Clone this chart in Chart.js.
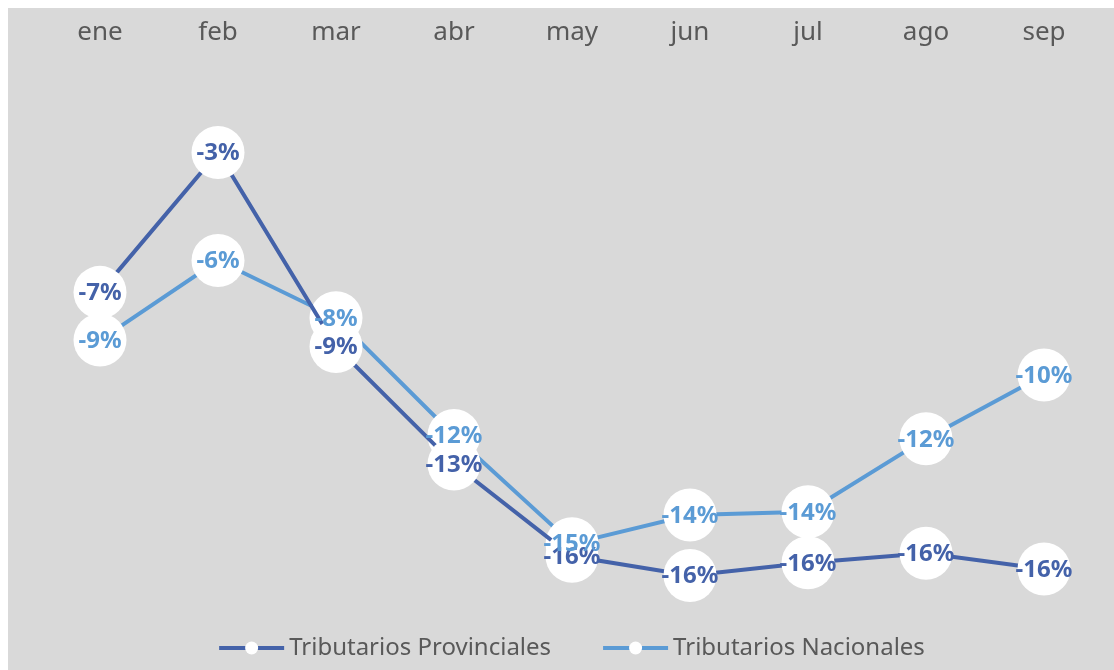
<!DOCTYPE html>
<html>
<head>
<meta charset="utf-8">
<script src="https://cdn.jsdelivr.net/npm/chart.js@4/dist/chart.umd.min.js"></script>
<style>
  html, body { margin: 0; padding: 0; background: #ffffff; overflow: hidden; }
  #wrap { position: absolute; left: 8px; top: 8px; width: 1106px; height: 662px; background: #d9d9d9; }
  #chart { display: block; }
</style>
</head>
<body>
<div id="wrap"><canvas id="chart" width="1106" height="662"></canvas></div>
<script>
// --- Data ---
const months = ['ene', 'feb', 'mar', 'abr', 'may', 'jun', 'jul', 'ago', 'sep'];
const provinciales = [-7.4, -3.0, -9.1, -12.8, -15.7, -16.3, -15.9, -15.6, -16.1];
const nacionales = [-8.9, -6.4, -8.2, -11.9, -15.3, -14.4, -14.3, -12.0, -10.0];
const seriesNames = ['Tributarios Provinciales', 'Tributarios Nacionales'];
const seriesColors = ['#4462a9', '#5b9bd5'];

const textColor = '#595959';
const fontFamily = "'Noto Sans', 'Open Sans', sans-serif";

// --- Plugins ---
// round labels drawn inside the white markers
const pointLabels = {
    id: 'pointLabels',
    afterDatasetsDraw(chart) {
        const ctx = chart.ctx;
        ctx.save();
        ctx.font = 'bold 24px ' + fontFamily;
        ctx.textAlign = 'center';
        ctx.textBaseline = 'middle';
        chart.data.datasets.forEach((ds, i) => {
            const meta = chart.getDatasetMeta(i);
            ctx.fillStyle = ds.borderColor;
            meta.data.forEach((pt, j) => {
                ctx.fillText(Math.round(ds.data[j]) + '%', pt.x, pt.y + 1);
            });
        });
        ctx.restore();
    }
};

// legend with line + circle marker
const lineLegend = {
    id: 'lineLegend',
    afterDraw(chart) {
        const ctx = chart.ctx;
        const area = chart.chartArea;
        const y = 640;
        const lineW = 65;
        const gapText = 5;
        const gapItems = 52;
        ctx.save();
        ctx.font = '24px ' + fontFamily;
        ctx.textBaseline = 'middle';
        const widths = seriesNames.map(n => ctx.measureText(n).width);
        let total = 0;
        widths.forEach((w, i) => { total += lineW + gapText + w + (i > 0 ? gapItems : 0); });
        let x = (area.left + area.right) / 2 - total / 2;
        seriesNames.forEach((name, i) => {
            ctx.strokeStyle = seriesColors[i];
            ctx.lineWidth = 4;
            ctx.beginPath();
            ctx.moveTo(x, y);
            ctx.lineTo(x + lineW, y);
            ctx.stroke();
            ctx.fillStyle = '#ffffff';
            ctx.beginPath();
            ctx.arc(x + lineW / 2, y, 6.5, 0, Math.PI * 2);
            ctx.fill();
            ctx.fillStyle = textColor;
            ctx.textAlign = 'left';
            ctx.fillText(name, x + lineW + gapText, y);
            x += lineW + gapText + widths[i] + gapItems;
        });
        ctx.restore();
    }
};

// --- Chart ---
const ctx = document.getElementById('chart').getContext('2d');
const chart = new Chart(ctx, {
    type: 'line',
    data: {
        labels: months,
        datasets: [provinciales, nacionales].map((vals, i) => ({
            label: seriesNames[i],
            data: vals,
            borderColor: seriesColors[i],
            backgroundColor: '#ffffff',
            borderWidth: 4,
            pointRadius: 26.5,
            pointHoverRadius: 26.5,
            pointBackgroundColor: '#ffffff',
            pointBorderWidth: 0,
            tension: 0,
            clip: false
        }))
    },
    options: {
        responsive: false,
        animation: false,
        events: [],
        layout: {
            autoPadding: false,
            padding: { left: 33, right: 11, top: 0, bottom: 40.5 }
        },
        plugins: {
            legend: { display: false },
            tooltip: { enabled: false }
        },
        scales: {
            x: {
                position: 'top',
                offset: true,
                grid: { display: false, drawTicks: false },
                border: { display: false },
                ticks: {
                    color: textColor,
                    font: { family: fontFamily, size: 26 },
                    padding: 9,
                    maxRotation: 0
                },
                afterFit(scale) {
                    scale.height = 49;
                    scale.paddingLeft = 0;
                    scale.paddingRight = 0;
                }
            },
            y: {
                display: false,
                min: -18,
                max: 0
            }
        }
    },
    plugins: [pointLabels, lineLegend]
});
</script>
</body>
</html>
